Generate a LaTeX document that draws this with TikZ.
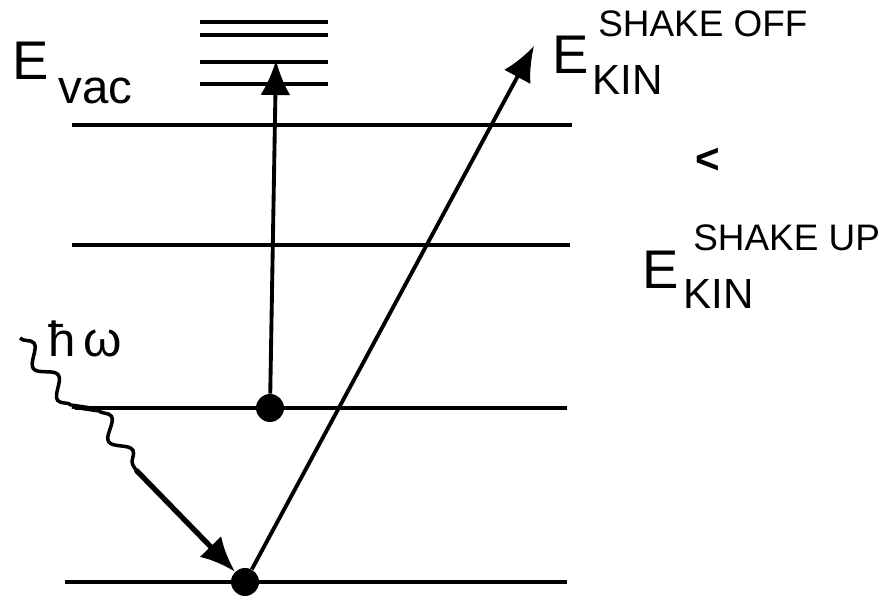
\documentclass[tikz,border=0pt]{standalone}
\usepackage{fontspec}
\setmainfont{Liberation Sans}
\usepackage{tikz}
\usetikzlibrary{arrows.meta,positioning,decorations.pathmorphing}

\begin{document}
\begin{tikzpicture}[
  x=0.02cm, y=-0.02cm,
  level/.style={line width=2.2pt},
  upper/.style={line width=2.6pt},
  arr/.style={-{Latex[length=7mm,width=6mm]},line width=2.2pt},
  photon/.style={decorate,decoration={snake,amplitude=1.6mm,segment length=8mm},line width=2pt},
  dot/.style={circle,fill=black,inner sep=0pt,minimum size=5.6mm},
  big/.style={inner sep=0pt,font=\fontsize{31}{33}\selectfont},
  sub/.style={inner sep=0pt,font=\fontsize{24}{26}\selectfont},
  sup/.style={inner sep=0pt,font=\fontsize{21}{23}\selectfont}
]
\useasboundingbox (0,0) rectangle (890,597);

% energy levels
\draw[level] (72,125) -- (572,125);
\draw[level] (72,245) -- (570,245);
\draw[level] (75,408) -- (567,408);
\draw[level] (65,582) -- (567,582);
% levels above the vacuum level
\foreach \y in {22,35,62,84}
  \draw[upper] (200,\y) -- (328,\y);

% electrons
\node[dot] (val) at (270,408) {};
\node[dot] (core) at (245,582) {};
\coordinate (excited) at (276,60);
\coordinate (free) at (534,46);

\draw[arr] (val) -- (excited);
\draw[arr] (core) -- (free);

% incoming photon
\coordinate (phA) at (20,338);
\coordinate (phB) at (72,406);
\coordinate (phC) at (98,410);
\coordinate (phD) at (136,470);
\draw[photon] (phA) -- (phB);
\draw[line width=3pt] (phB) -- (phC);
\draw[photon] (phC) -- (phD);
\draw[arr,line width=3pt] (phD) -- (core);
\node[anchor=base west,inner sep=0pt,font=\fontsize{28}{30}\selectfont] (hw) at (48,357) {ħ\,ω};

% labels
\node[big,anchor=base west] (evac) at (12,80) {E};
\node[sub,anchor=base west,font=\fontsize{27}{29}\selectfont] (vac) at (58,104) {vac};

\node[big,anchor=base west] (eoff) at (552,74) {E};
\node[sup,anchor=base west] (offsup) at (598,37) {SHAKE OFF};
\node[sub,anchor=base west] (offsub) at (592,95) {KIN};

\node[sub] (less) at (708,161) {\textbf{<}};

\node[big,anchor=base west] (eup) at (642,289) {E};
\node[sup,anchor=base west] (upsup) at (693,251) {SHAKE UP};
\node[sub,anchor=base west] (upsub) at (683,309) {KIN};
\end{tikzpicture}
\end{document}
